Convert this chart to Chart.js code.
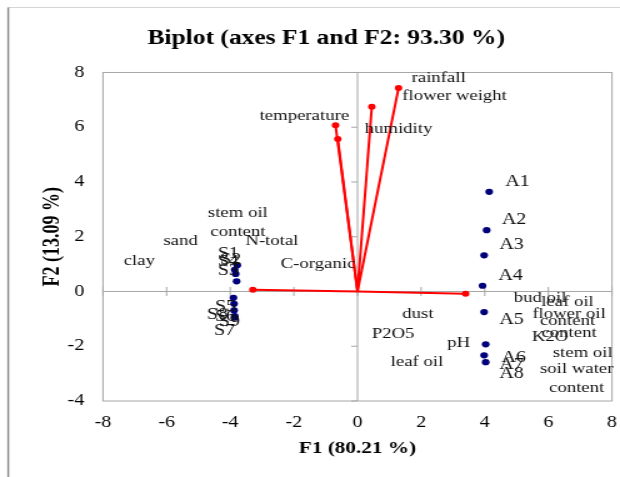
<!DOCTYPE html>
<html><head><meta charset="utf-8">
<script src="https://cdn.jsdelivr.net/npm/chart.js@4.4.0/dist/chart.umd.min.js"></script>
<style>
html,body{margin:0;padding:0;background:#fff;overflow:hidden;}
#c{display:block;width:620px !important;height:477px !important;}
</style></head><body>
<canvas id="c" width="496" height="477" style="width:620px;height:477px;"></canvas>
<script>
// ---- data ----
const xTicks = [-8, -6, -4, -2, 0, 2, 4, 6, 8];
const yTicks = [-4, -2, 0, 2, 4, 6, 8];

const obsNames = ['S1','S2','S3','S4','S5','S6','S7','S8','S9','A1','A2','A3','A4','A5','A6','A7','A8'];
const obsF1 = [-3.78,-3.86,-3.80,-3.83,-3.90,-3.88,-3.86,-3.88,-3.86, 4.14,4.06,3.98,3.93,3.98,4.03,3.98,4.03];
const obsF2 = [0.96,0.79,0.37,0.64,-0.23,-0.69,-0.96,-0.45,-0.90, 3.64,2.24,1.32,0.21,-0.75,-1.93,-2.33,-2.58];
const obsLabelF1 = [-4.06,-3.99,-4.06,-4.06,-4.15,-4.15,-4.18,-4.40,-4.03, 5.03,4.92,4.84,4.81,4.84,4.91,4.84,4.84];
const obsLabelF2 = [1.39,1.16,0.76,1.07,-0.55,-0.91,-1.42,-0.84,-1.09, 4.01,2.61,1.71,0.58,-1.05,-2.41,-2.69,-2.99];

// variable vectors (tips), drawn from the origin
const vectorTipF1 = [1.29, 0.45, -0.69, -0.62, -3.29, 3.40];
const vectorTipF2 = [7.43, 6.75, 6.07, 5.57, 0.06, -0.08];

const varNames = ['temperature','humidity','rainfall','flower weight','stem oil\ncontent','sand','clay','N-total','C-organic',
  'dust','P2O5','pH','leaf oil','bud oil','leaf oil\ncontent','flower oil\ncontent','K2O','stem oil','soil water\ncontent'];
const varLabelF1 = [-1.67,1.29,2.55,3.05,-3.76,-5.56,-6.86,-2.69,-1.24, 1.90,1.12,3.18,1.87,5.74,6.60,6.65,6.05,7.08,6.89];
const varLabelF2 = [6.40,5.94,7.79,7.13,2.88,1.85,1.10,1.85,1.02, -0.84,-1.57,-1.90,-2.57,-0.23,-0.39,-0.81,-1.66,-2.24,-2.85];

// ---- chart ----
const FAM = '"Liberation Serif", "Times New Roman", serif';

const datasets = [{
  label: 'Observations',
  data: obsF1.map((v, i) => ({x: v, y: obsF2[i]})),
  backgroundColor: '#00007a', borderColor: '#00007a',
  pointRadius: 3.1, pointBorderWidth: 0, showLine: false
}];
vectorTipF1.forEach((v, i) => {
  datasets.push({
    label: 'vector' + i,
    data: [{x: 0, y: 0}, {x: v, y: vectorTipF2[i]}],
    showLine: true, borderColor: '#ff0000', backgroundColor: '#ff0000',
    borderWidth: 2, pointRadius: [0, 3], pointBorderWidth: 0
  });
});

const decor = {
  id: 'decor',
  beforeDraw(chart) {
    const {ctx} = chart;
    ctx.save();
    ctx.fillStyle = '#fff';
    ctx.fillRect(0, 0, chart.width, chart.height);
    ctx.strokeStyle = '#d4d4d4'; ctx.lineWidth = 1;
    ctx.beginPath(); ctx.moveTo(6.4, 7.5); ctx.lineTo(chart.width, 7.5); ctx.stroke();
    ctx.strokeStyle = '#8a8a8a'; ctx.lineWidth = 1.4;
    ctx.beginPath(); ctx.moveTo(6.6, 7.5); ctx.lineTo(6.6, chart.height); ctx.stroke();
    ctx.restore();
  },
  beforeDatasetsDraw(chart) {
    const {ctx, chartArea: a, scales: {x, y}} = chart;
    ctx.save();
    ctx.strokeStyle = '#a6a6a6'; ctx.lineWidth = 1;
    ctx.strokeRect(a.left, a.top, a.right - a.left, a.bottom - a.top);
    const y0 = y.getPixelForValue(0), x0 = x.getPixelForValue(0);
    ctx.beginPath();
    ctx.moveTo(a.left, y0); ctx.lineTo(a.right, y0);
    ctx.moveTo(x0, a.top); ctx.lineTo(x0, a.bottom);
    xTicks.forEach(t => { const px = x.getPixelForValue(t); ctx.moveTo(px, y0 - 4.5); ctx.lineTo(px, y0 + 4.5); });
    yTicks.forEach(t => { const py = y.getPixelForValue(t); ctx.moveTo(x0 - 5, py); ctx.lineTo(x0, py); });
    ctx.stroke();
    ctx.restore();
  },
  afterDatasetsDraw(chart) {
    const {ctx, scales: {x, y}} = chart;
    ctx.save();
    ctx.fillStyle = '#111'; ctx.textAlign = 'center'; ctx.textBaseline = 'middle';
    ctx.font = '16px ' + FAM;
    obsNames.forEach((n, i) => ctx.fillText(n, x.getPixelForValue(obsLabelF1[i]), y.getPixelForValue(obsLabelF2[i])));
    ctx.font = '15px ' + FAM;
    varNames.forEach((n, i) => {
      const px = x.getPixelForValue(varLabelF1[i]), py = y.getPixelForValue(varLabelF2[i]);
      n.split('\n').forEach((line, k) => ctx.fillText(line, px, py + k * 19));
    });
    ctx.restore();
  }
};

new Chart(document.getElementById('c'), {
  type: 'scatter',
  data: {datasets},
  options: {
    responsive: false, animation: false, devicePixelRatio: 1,
    layout: {padding: {left: 32.4, right: 6.4, top: 0, bottom: 0}},
    plugins: {
      legend: {display: false}, tooltip: {enabled: false},
      title: {display: true, text: 'Biplot (axes F1 and F2: 93.30 %)', color: '#000',
        font: {family: FAM, size: 20.4, weight: 'bold'}, padding: {top: 26, bottom: 22}}
    },
    scales: {
      x: {
        type: 'linear', min: -8, max: 8,
        afterFit(s) { s.height = 76; s.paddingLeft = 0; s.paddingRight = 0; },
        afterBuildTicks(s) { s.ticks = xTicks.map(v => ({value: v})); },
        grid: {display: false, drawTicks: false}, border: {display: false},
        ticks: {color: '#000', font: {family: FAM, size: 16}, padding: 12, maxRotation: 0, autoSkip: false},
        title: {display: true, text: 'F1 (80.21 %)', color: '#000', font: {family: FAM, size: 17, weight: 'bold'}, padding: {top: 0, bottom: 17.8}}
      },
      y: {
        type: 'linear', min: -4, max: 8,
        afterFit(s) { s.width = 50; s.paddingTop = 0; s.paddingBottom = 0; },
        afterBuildTicks(s) { s.ticks = yTicks.map(v => ({value: v})); },
        grid: {display: false, drawTicks: false}, border: {display: false},
        ticks: {color: '#000', font: {family: FAM, size: 16}, padding: 15, autoSkip: false},
        title: {display: true, text: 'F2 (13.09 %)', color: '#000', font: {family: FAM, size: 18, weight: 'bold'}, padding: {top: -1, bottom: 0}}
      }
    }
  },
  plugins: [decor]
});
</script>
</body></html>
